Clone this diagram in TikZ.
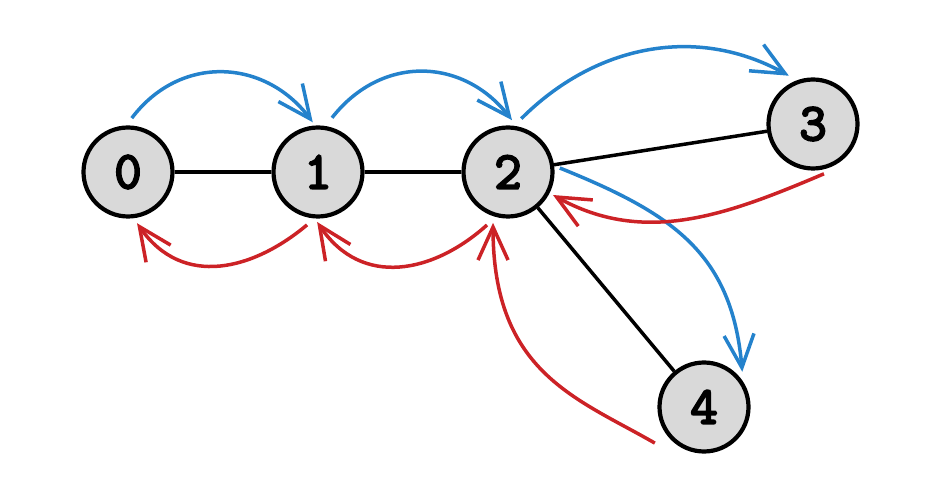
\documentclass[tikz,border=0pt]{standalone}
\usepackage{fontspec}
\newfontfamily\digitfont[FakeBold=4]{Latin Modern Mono}
\usetikzlibrary{arrows.meta,calc}
\definecolor{arcblue}{RGB}{36,130,204}
\definecolor{arcred}{RGB}{204,34,38}
\definecolor{nodegray}{RGB}{217,217,217}
\tikzset{
  vtx/.style={circle,draw=black,line width=4.2pt,fill=nodegray,minimum size=89pt,inner sep=0pt,
    font=\fontsize{53}{53}\selectfont\digitfont},
  edgeline/.style={draw=black,line width=3.5pt},
  barb/.style={-{Straight Barb[length=33pt,width=30pt]}},
  bluearc/.style={draw=arcblue,line width=3.5pt,barb},
  redarc/.style={draw=arcred,line width=3.5pt,barb}
}
\begin{document}
\begin{tikzpicture}[x=1pt,y=1pt]
\useasboundingbox (0,0) rectangle (936,490);
\node[vtx] (n0) at (128,318) {0};
\node[vtx] (n1) at (318,318) {1};
\node[vtx] (n2) at (508,318) {2};
\node[vtx] (n3) at (813,366) {3};
\node[vtx] (n4) at (704,83) {4};
% black edges
\draw[edgeline] (n0) -- (n1);
\draw[edgeline] (n1) -- (n2);
\draw[edgeline] (n2) -- (n3);
\draw[edgeline] (n2) -- (n4);
% blue arcs
\draw[bluearc] ($(n0)+(86:54)$) .. controls +(53:80) and +(127:80) .. ($(n1)+(96:50)$);
\draw[bluearc] ($(n1)+(75.5:56)$) .. controls +(52:80) and +(128:80) .. ($(n2)+(85.6:52)$);
\draw[bluearc] ($(n2)+(76:55)$) .. controls +(45:105) and +(151:105) .. ($(n3)+(116.6:54)$);
\draw[bluearc] ($(n2)+(4.4:52)$) .. controls +(-22:120) and +(95:120) .. ($(n4)+(42.6:52)$);
% red arcs
\draw[redarc] ($(n1)+(-101.7:54)$) .. controls +(-140:70) and +(-55:80) .. ($(n0)+(-80:52)$);
\draw[redarc] ($(n2)+(-111.6:57)$) .. controls +(-138:72) and +(-56:80) .. ($(n1)+(-91:50)$);
\draw[redarc] ($(n3)+(-77.6:51)$) .. controls +(203:105) and +(-29:105) .. ($(n2)+(-27.1:50.5)$);
\draw[redarc] ($(n4)+(-143.7:61)$) .. controls +(150:90) and +(-90:150) .. ($(n2)+(-106.4:53)$);
\end{tikzpicture}
\end{document}
